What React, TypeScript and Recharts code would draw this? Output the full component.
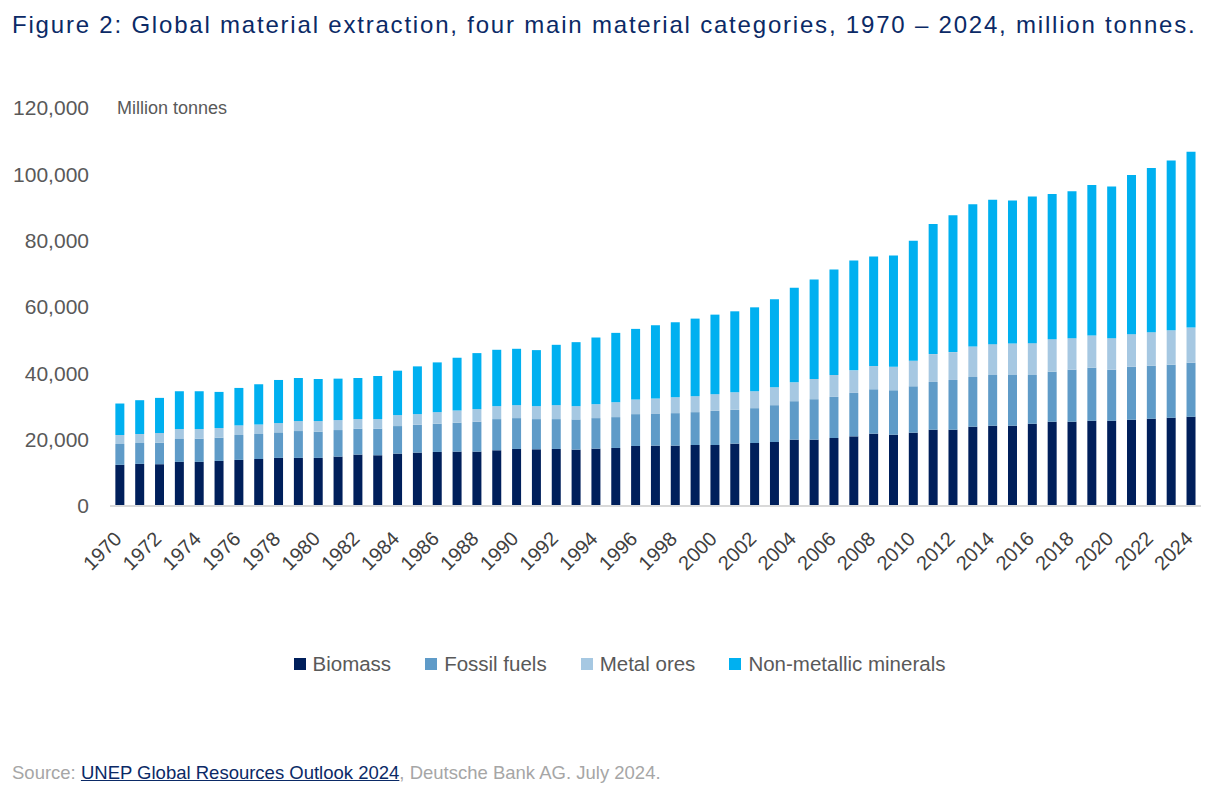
import React from "react";
import { BarChart, Bar, XAxis, YAxis } from "recharts";

const YEARS = [
  1970, 1971, 1972, 1973, 1974, 1975, 1976, 1977, 1978, 1979,
  1980, 1981, 1982, 1983, 1984, 1985, 1986, 1987, 1988, 1989,
  1990, 1991, 1992, 1993, 1994, 1995, 1996, 1997, 1998, 1999,
  2000, 2001, 2002, 2003, 2004, 2005, 2006, 2007, 2008, 2009,
  2010, 2011, 2012, 2013, 2014, 2015, 2016, 2017, 2018, 2019,
  2020, 2021, 2022, 2023, 2024,
];

// million tonnes
const BIOMASS = [
  12400, 12700, 12600, 13300, 13300, 13600, 13900, 14200, 14500, 14500,
  14500, 14900, 15500, 15300, 15800, 16100, 16300, 16400, 16400, 16800,
  17200, 17100, 17200, 17000, 17300, 17500, 18100, 18200, 18200, 18400,
  18400, 18800, 19000, 19300, 20000, 20000, 20500, 21000, 21800, 21500,
  22100, 23000, 23000, 23900, 24200, 24200, 24800, 25400, 25400, 25700,
  25700, 26000, 26300, 26600, 26900,
];
const FOSSIL = [
  6300, 6300, 6500, 6900, 7000, 7000, 7500, 7500, 7700, 8100,
  7900, 8000, 7800, 8000, 8300, 8400, 8500, 8700, 9000, 9400,
  9300, 9100, 9000, 9100, 9200, 9300, 9600, 9700, 9800, 9900,
  10300, 10200, 10500, 11100, 11600, 12200, 12400, 13100, 13400, 13400,
  14000, 14400, 15000, 15000, 15300, 15300, 14700, 15100, 15700, 16000,
  15400, 16000, 16000, 16000, 16300,
];
const METAL = [
  2700, 2700, 2900, 3000, 2900, 2900, 2900, 2900, 2800, 3000,
  3200, 3000, 2900, 2900, 3300, 3200, 3500, 3700, 3800, 3900,
  3900, 3900, 4200, 4000, 4200, 4500, 4400, 4500, 4800, 4800,
  5000, 5300, 5100, 5400, 5700, 6100, 6600, 6800, 7000, 7100,
  7700, 8400, 8400, 9200, 9300, 9500, 9600, 9800, 9500, 9700,
  9500, 9800, 10100, 10400, 10600,
];
const NON_METALLIC = [
  9500, 10200, 10600, 11400, 11400, 10900, 11300, 12100, 13000, 13000,
  12700, 12500, 12400, 13000, 13400, 14400, 15000, 15900, 16900, 17000,
  17000, 16900, 18200, 19300, 20100, 20900, 21300, 22100, 22600, 23400,
  24000, 24400, 25300, 26500, 28500, 30000, 31800, 33100, 33000, 33500,
  36200, 39200, 41300, 42900, 43500, 43100, 44200, 43800, 44300, 45400,
  45700, 48000, 49500, 51200, 53000,
];

const Y_TICKS = [0, 20000, 40000, 60000, 80000, 100000, 120000];

const SERIES = [
  { key: "biomass", name: "Biomass", color: "#001f5b" },
  { key: "fossil", name: "Fossil fuels", color: "#5f9bc8" },
  { key: "metal", name: "Metal ores", color: "#a6c8e2" },
  { key: "nonMetallic", name: "Non-metallic minerals", color: "#00b0f0" },
];

const FONT = "'Liberation Sans', Arial, sans-serif";
const GREY = "#595959";

const data = YEARS.map((year, i) => ({
  year: String(year),
  biomass: BIOMASS[i],
  fossil: FOSSIL[i],
  metal: METAL[i],
  nonMetallic: NON_METALLIC[i],
}));

const XTick = (props: any) => {
  const { x, y, payload } = props;
  const ax = x + 3;
  const ay = y + 32;
  return (
    <text
      x={ax}
      y={ay}
      transform={`rotate(-45 ${ax} ${ay})`}
      textAnchor="end"
      fill="#404040"
      fontSize={20}
      fontFamily={FONT}
    >
      {payload.value}
    </text>
  );
};

export default function App() {
  return (
    <div
      style={{
        position: "absolute",
        left: 0,
        top: 0,
        width: 1209,
        height: 800,
        background: "#fff",
        fontFamily: FONT,
      }}
    >
      <div
        style={{
          position: "absolute",
          left: 12,
          top: 10,
          fontSize: 24,
          letterSpacing: 1.8,
          lineHeight: "30px",
          color: "#0b2a66",
          whiteSpace: "nowrap",
        }}
      >
        Figure 2: Global material extraction, four main material categories, 1970 – 2024, million tonnes.
      </div>

      <div style={{ position: "absolute", left: 0, top: 0 }}>
        <BarChart
          width={1209}
          height={800}
          data={data}
          margin={{ top: 108, right: 8, left: 0, bottom: 200 }}
          barCategoryGap="27%"
        >
          <XAxis
            dataKey="year"
            interval={1}
            tickLine={false}
            tickSize={0}
            axisLine={{ stroke: "#d9d9d9", strokeWidth: 2 }}
            height={94}
            tick={<XTick />}
          />
          <YAxis
            width={110}
            domain={[0, 120000]}
            ticks={Y_TICKS}
            axisLine={false}
            tickLine={false}
            tickSize={0}
            tickMargin={21}
            tick={{ fill: GREY, fontSize: 21, fontFamily: FONT }}
            tickFormatter={(v: number) => v.toLocaleString("en-US")}
          />
          {SERIES.map((s) => (
            <Bar
              key={s.key}
              dataKey={s.key}
              name={s.name}
              stackId="total"
              fill={s.color}
              isAnimationActive={false}
            />
          ))}
        </BarChart>
      </div>

      <div
        style={{
          position: "absolute",
          left: 117,
          top: 97,
          fontSize: 18,
          lineHeight: "22px",
          color: GREY,
        }}
      >
        Million tonnes
      </div>

      <div
        style={{
          position: "absolute",
          left: 0,
          width: 1209,
          top: 652,
          display: "flex",
          justifyContent: "center",
          paddingLeft: 30,
          boxSizing: "border-box",
          gap: 34,
          fontSize: 20.5,
          lineHeight: "24px",
          color: GREY,
        }}
      >
        {SERIES.map((s) => (
          <div key={s.key} style={{ display: "flex", alignItems: "center" }}>
            <span
              style={{
                display: "inline-block",
                width: 12,
                height: 12,
                background: s.color,
                marginRight: 7,
              }}
            />
            <span>{s.name}</span>
          </div>
        ))}
      </div>

      <div
        style={{
          position: "absolute",
          left: 12,
          top: 761,
          fontSize: 18.5,
          lineHeight: "24px",
          color: "#a6a6a6",
          whiteSpace: "nowrap",
        }}
      >
        Source:{" "}
        <span style={{ color: "#0b2a66", textDecoration: "underline" }}>
          UNEP Global Resources Outlook 2024
        </span>
        , Deutsche Bank AG. July 2024.
      </div>
    </div>
  );
}
